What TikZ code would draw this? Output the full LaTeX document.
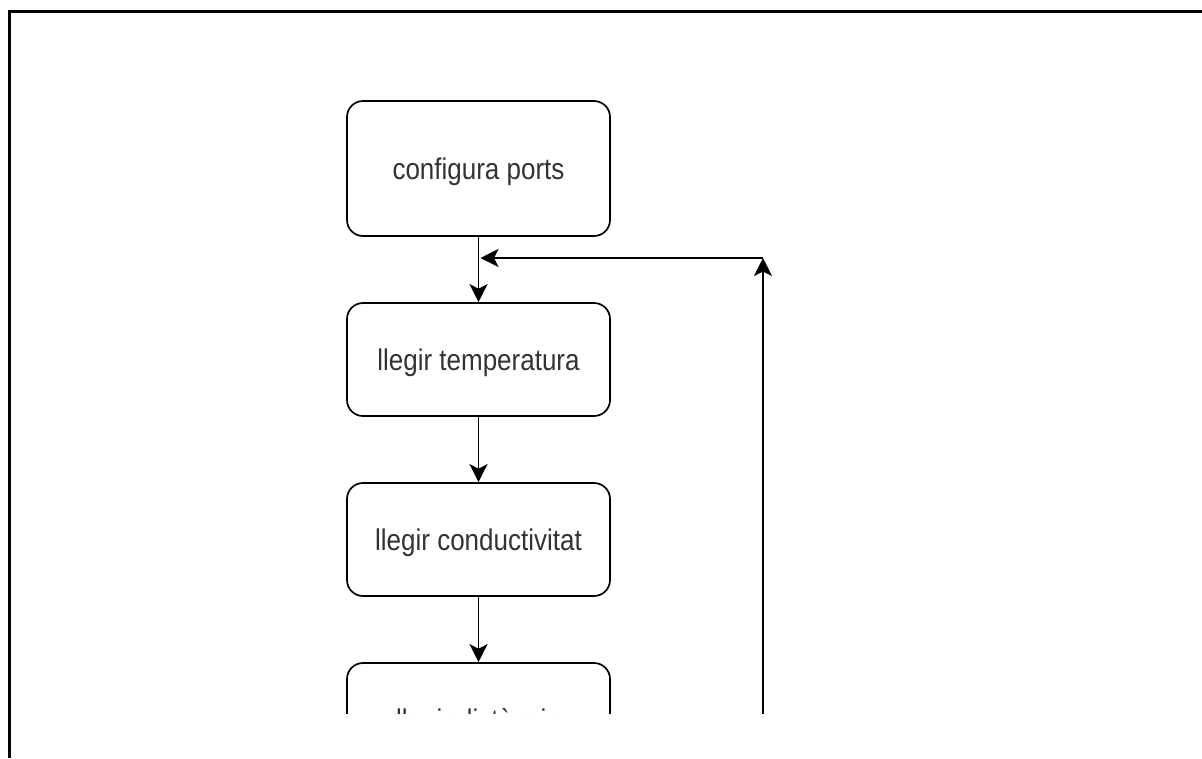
\documentclass[tikz,border=0pt]{standalone}
\usepackage{fontspec}
\usepackage{graphicx}
\setmainfont{Liberation Sans}
\usetikzlibrary{arrows.meta}
\newcommand{\tallText}[1]{\scalebox{1}[1.15]{#1}}
\begin{document}
\begin{tikzpicture}[x=1pt,y=-1pt,
  stepbox/.style={draw=black, line width=1.7pt, rounded corners=16pt,
    minimum width=263pt, minimum height=113pt, inner sep=0pt,
    text height=23pt, text depth=2pt,
    text=black!80, font=\fontsize{26}{30}\selectfont},
  conn/.style={line width=1.7pt, -{Stealth[length=18pt,width=18pt,inset=4.5pt]}},
  frame/.style={line width=3pt}]
\useasboundingbox (0,0) rectangle (1202,758);
\fill[white] (0,0) rectangle (1202,758);
\draw[frame] (9.5,758) -- (9.5,11.5) -- (1202,11.5);
\begin{scope}
\clip (11,13) rectangle (1202,713);
\node[stepbox, minimum height=135pt] (b1) at (478.5,168.5) {\tallText{configura ports}};
\node[stepbox] (b2) at (478.5,359.5) {\tallText{llegir temperatura}};
\node[stepbox] (b3) at (478.5,539.5) {\tallText{llegir conductivitat}};
\node[stepbox] (b4) at (478.5,719.5) {\tallText{llegir distància}};
\coordinate (lb) at (763,790);
\coordinate (lt) at (763,258);
\coordinate (lj) at (480.5,258);
\draw[conn] (b1) -- (b2);
\draw[conn] (b2) -- (b3);
\draw[conn] (b3) -- (b4);
\draw[conn] (lb) -- (lt);
\draw[conn] (lt) -- (lj);
\end{scope}
\end{tikzpicture}
\end{document}
